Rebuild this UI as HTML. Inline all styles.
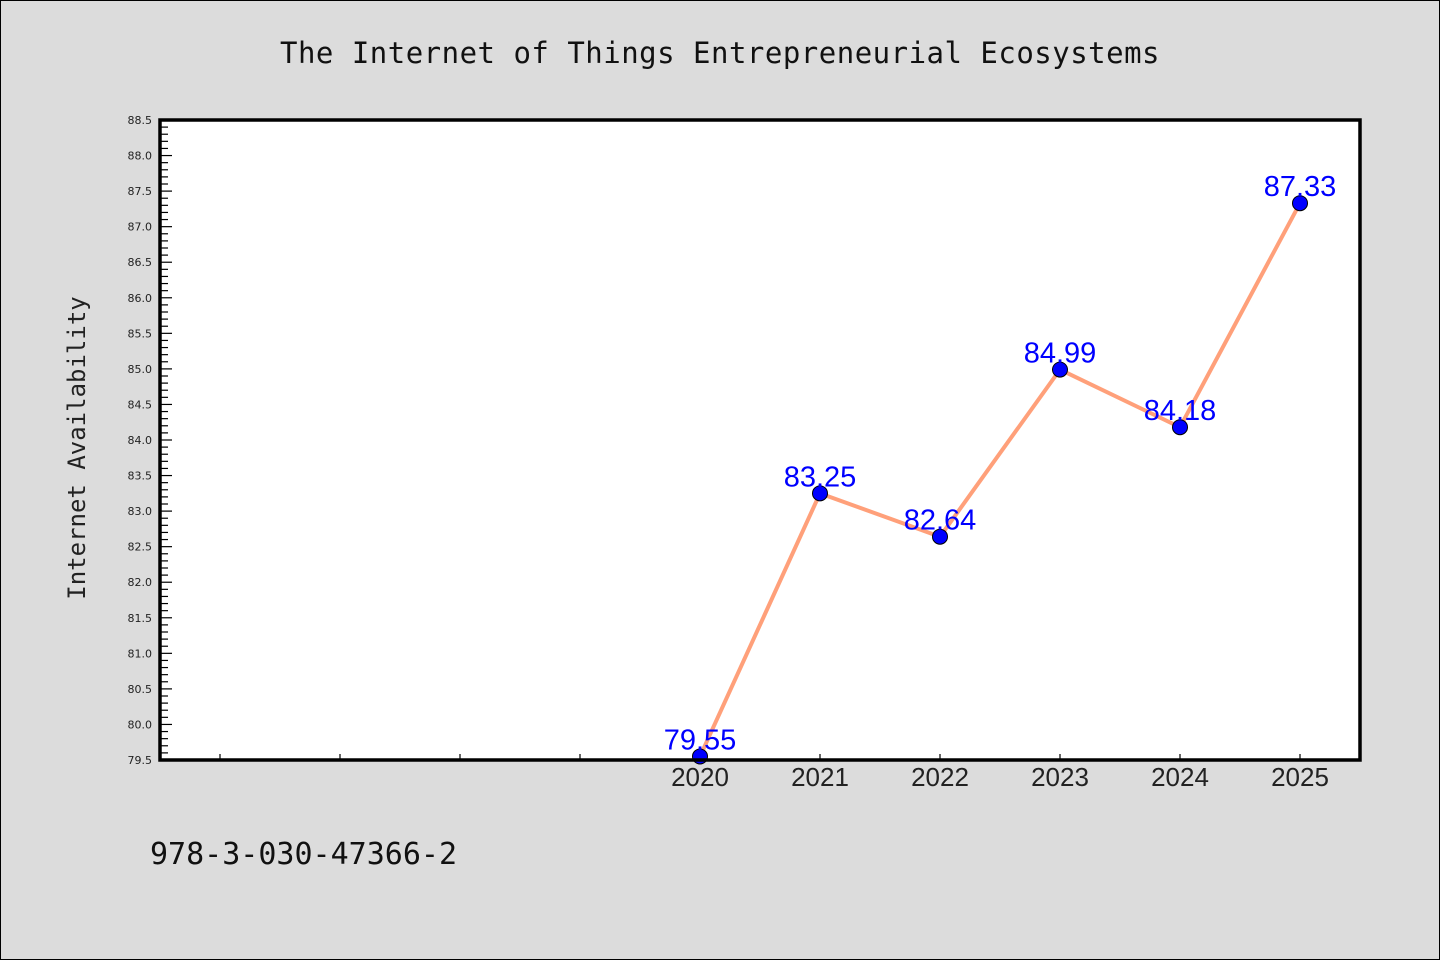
<!DOCTYPE html>
<html><head><meta charset="utf-8"><style>
html,body{margin:0;padding:0;width:1440px;height:960px;overflow:hidden;background:#dcdcdc}
svg{display:block}
</style></head><body>
<svg id="chart" width="1440" height="960" xmlns="http://www.w3.org/2000/svg">
<rect x="0.5" y="0.5" width="1439" height="959" fill="#dcdcdc" stroke="#000" stroke-width="1"/>
<text x="720" y="63" text-anchor="middle" font-family="DejaVu Sans Mono, Liberation Mono, monospace" font-size="29" letter-spacing="0.5" fill="#111">The Internet of Things Entrepreneurial Ecosystems</text>
<rect x="160" y="120" width="1200" height="640" fill="#fff"/>
<g id="yticks"></g><g id="xticks"></g><g id="series"></g>
<rect x="160" y="120" width="1200" height="640" fill="none" stroke="#000" stroke-width="3.5"/>
<text transform="translate(85,448) rotate(-90)" text-anchor="middle" font-family="DejaVu Sans Mono, Liberation Mono, monospace" font-size="24" fill="#222">Internet Availability</text>
<text x="150" y="864" font-family="DejaVu Sans Mono, Liberation Mono, monospace" font-size="30" fill="#111">978-3-030-47366-2</text>
</svg>
<script>
const categories = [2020, 2021, 2022, 2023, 2024, 2025];
const values = [79.55, 83.25, 82.64, 84.99, 84.18, 87.33];
const valueLabels = ["79.55", "83.25", "82.64", "84.99", "84.18", "87.33"];
const yTickLabels = ["79.5","80.0","80.5","81.0","81.5","82.0","82.5","83.0","83.5","84.0","84.5","85.0","85.5","86.0","86.5","87.0","87.5","88.0","88.5"];
const xUnlabeledYears = [2016, 2017, 2018, 2019];

const NS = "http://www.w3.org/2000/svg";
const L = 160, R = 1360, T = 120, B = 760;
const yMin = 79.5, yMax = 88.5, xMin = 2015.5, xMax = 2025.5;
function y(v){ return B - (v - yMin) / (yMax - yMin) * (B - T); }
function x(v){ return L + (v - xMin) / (xMax - xMin) * (R - L); }
function mk(tag, attrs, parent){ const e = document.createElementNS(NS, tag); for (const k in attrs) e.setAttribute(k, attrs[k]); parent.appendChild(e); return e; }

const yt = document.getElementById('yticks');
for (let i = 0; i <= 90; i++) {
  const v = yMin + i * 0.1;
  const major = i % 5 === 0;
  const t = mk('line', {x1: L, x2: L + (major ? 12 : 8), y1: y(v), y2: y(v), stroke: '#000', 'stroke-width': 1.2}, yt);
  
  
}
yTickLabels.forEach(s => {
  const t = mk('text', {x: L - 8, y: y(parseFloat(s)) + 4, 'text-anchor': 'end', 'font-family': 'DejaVu Sans, Liberation Sans, sans-serif', 'font-size': 11, fill: '#222'}, yt);
  t.textContent = s;
  
  
});
const xt = document.getElementById('xticks');
xUnlabeledYears.concat(categories).forEach(c => {
  const t = mk('line', {x1: x(c), x2: x(c), y1: B, y2: B - 6, stroke: '#000', 'stroke-width': 1.2}, xt);
  
  
});
categories.forEach(c => {
  const t = mk('text', {x: x(c), y: B + 26, 'text-anchor': 'middle', 'font-family': 'Liberation Sans, sans-serif', 'font-size': 26, fill: '#222'}, xt);
  t.textContent = String(c);
  
  
});
const sg = document.getElementById('series');
const pts = categories.map((c, i) => x(c) + ',' + y(values[i])).join(' ');
const line = mk('polyline', {points: pts, fill: 'none', stroke: '#ffa07a', 'stroke-width': 4, 'stroke-linejoin': 'round'}, sg);


categories.forEach((c, i) => {
  const p = mk('circle', {cx: x(c), cy: y(values[i]), r: 7.5, fill: '#0000ff', stroke: '#000', 'stroke-width': 1}, sg);
  
  
});
categories.forEach((c, i) => {
  const t = mk('text', {x: x(c), y: y(values[i]) - 7, 'text-anchor': 'middle', 'font-family': 'Liberation Sans, sans-serif', 'font-size': 29, fill: '#0000ff'}, sg);
  t.textContent = valueLabels[i];
  
  
});
</script>
</body></html>
